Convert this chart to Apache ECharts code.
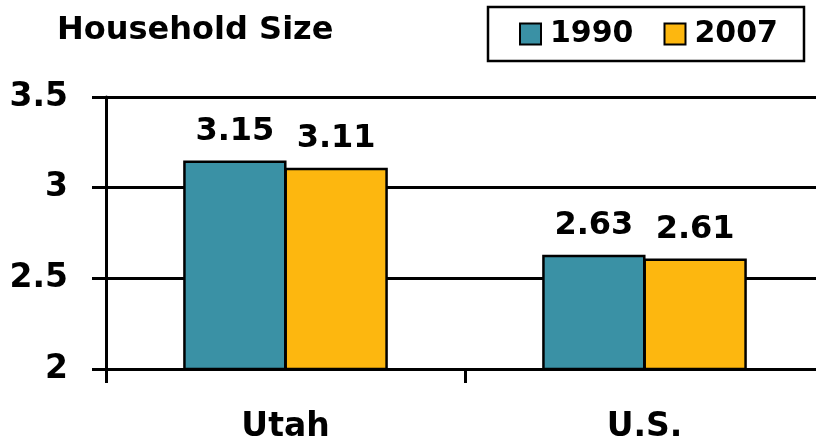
<!DOCTYPE html>
<html>
<head>
<meta charset="utf-8">
<script src="https://cdn.jsdelivr.net/npm/echarts@6/dist/echarts.min.js"></script>
<style>
  html, body {margin: 0; padding: 0; background: #fff; overflow: hidden;}
  /* plot runs a little past the right edge in the source picture */
  #chart {width: 824px; height: 445px;}
</style>
</head>
<body>
<div id="chart"></div>
<script>
// values
const categories = ['Utah', 'U.S.'];
const years = ['1990', '2007'];
const size1990 = [3.15, 2.63];
const size2007 = [3.11, 2.61];
const colors = ['#3a91a5', '#fdb70f'];

const FONT = '"DejaVu Sans", Verdana, sans-serif';
const myChart = echarts.init(document.getElementById('chart'), null, {renderer: 'canvas'});

function barSeries(name, data, color) {
  return {
    name: name,
    type: 'bar',
    barGap: '-2%',       // bars share one border line
    barCategoryGap: '43%',
    itemStyle: {color: color, borderColor: '#000', borderWidth: 2.5},
    label: {
      show: true,
      position: 'top',
      distance: 13,
      color: '#000',
      fontFamily: FONT,
      fontWeight: 'bold',
      fontSize: 32,
      formatter: (p) => p.value.toFixed(2)
    },
    data: data
  };
}

myChart.setOption({
  animation: false,
  title: {
    text: 'Household Size',
    left: 52,
    top: 10,
    textStyle: {color: '#000', fontFamily: FONT, fontWeight: 'bold', fontSize: 32}
  },
  legend: {
    data: years,
    left: 488,
    top: 7,
    padding: [12, 26, 12, 31],
    borderColor: '#000',
    borderWidth: 2.5,
    itemGap: 30,
    itemWidth: 21,
    itemHeight: 21,
    icon: 'rect',
    itemStyle: {borderColor: '#000', borderWidth: 2},
    textStyle: {color: '#000', fontFamily: FONT, fontWeight: 'bold', fontSize: 30, padding: [0, 0, 0, 4]},
    selectedMode: false
  },
  grid: {left: 106, right: 0, top: 97, bottom: 76, containLabel: false},
  xAxis: {
    type: 'category',
    data: categories,
    axisLine: {lineStyle: {color: '#000', width: 3}},
    axisTick: {show: true, length: 14, lineStyle: {color: '#000', width: 3}},
    axisLabel: {color: '#000', fontFamily: FONT, fontWeight: 'bold', fontSize: 33, margin: 42}
  },
  yAxis: {
    type: 'value',
    min: 2,
    max: 3.5,
    interval: 0.5,
    axisLine: {show: true, lineStyle: {color: '#000', width: 3}},
    axisTick: {show: true, length: 14, lineStyle: {color: '#000', width: 3}},
    splitLine: {show: true, lineStyle: {color: '#000', width: 3}},
    axisLabel: {color: '#000', fontFamily: FONT, fontWeight: 'bold', fontSize: 33, margin: 38}
  },
  series: [
    barSeries(years[0], size1990, colors[0]),
    barSeries(years[1], size2007, colors[1])
  ]
});
</script>
</body>
</html>
